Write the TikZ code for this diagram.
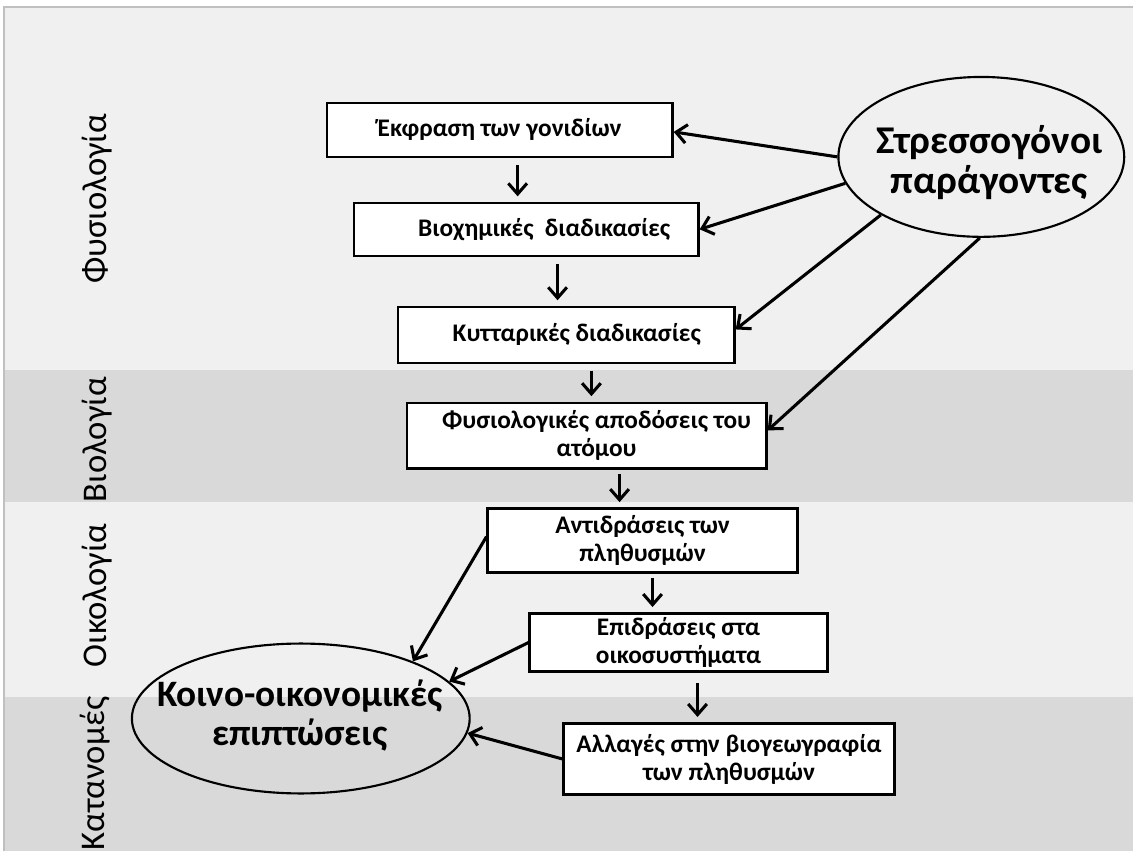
\documentclass[tikz,border=0pt]{standalone}
\usepackage{fontspec}
\setmainfont{Carlito}
\usetikzlibrary{shapes.geometric,arrows.meta}
\definecolor{bandlight}{RGB}{240,240,240}
\definecolor{banddark}{RGB}{217,217,217}
\definecolor{frameline}{RGB}{192,192,192}

\begin{document}
\begin{tikzpicture}[%
            x=0.75pt, y=-0.75pt,
            >={Straight Barb[length=8pt,width=14pt]},
            box/.style={draw, line width=1.8pt, fill=white, align=center, inner sep=0pt,
                font=\bfseries\fontsize{19}{21}\selectfont},
            oval/.style={draw, ellipse, line width=1.6pt, inner sep=0pt},
            big/.style={align=center, font=\bfseries\fontsize{#1}{30}\selectfont},
            side/.style={rotate=90, font=\fontsize{26}{30}\selectfont},
            arr/.style={->, line width=2.3pt},
            down/.style={->, line width=2.3pt, shorten <=5pt, shorten >=4pt}
            ]
            \fill[white] (0,0) rectangle (1134,852);
            \fill[bandlight] (4,7) rectangle (1134,852);
            \fill[banddark] (4,370) rectangle (1134,502);
            \fill[banddark] (4,697) rectangle (1134,852);
            \draw[frameline, line width=1.2pt] (4,852) -- (4,7) -- (1134,7);

            \node[side] (physio) at (97,199) {Φυσιολογία};
            \node[side] (bio) at (97,440) {Βιολογία};
            \node[side] (eco) at (97,596) {Οικολογία};
            \node[side] (distr) at (95,774) {Κατανομές};

            \node[box, minimum width=259.5pt, minimum height=40.5pt] (b1) at (500,130) {Έκφραση των γονιδίων};
            \node[box, minimum width=258.75pt, minimum height=39.75pt] (b2) at (526.5,229.5) {\hspace*{27pt}Βιοχημικές~ διαδικασίες};
            \node[box, minimum width=252.75pt, minimum height=42pt] (b3) at (566.5,335) {\hspace*{16pt}Κυτταρικές διαδικασίες};
            \node[box, minimum width=270pt, minimum height=49.5pt] (b4) at (587,436) {\hspace*{15pt}Φυσιολογικές αποδόσεις του\\\hspace*{15pt}ατόμου};
            \node[box, minimum width=232.5pt, minimum height=48pt] (b5) at (643,541) {Αντιδράσεις των\\πληθυσμών};
            \node[box, minimum width=223.5pt, minimum height=43.5pt] (b6) at (679,643) {Επιδράσεις στα\\οικοσυστήματα};
            \node[box, minimum width=248.25pt, minimum height=53.25pt] (b7) at (729.5,759.5) {Αλλαγές στην βιογεωγραφία\\των πληθυσμών};

            \node[oval, minimum width=214.5pt, minimum height=120pt] (stress) at (982,157) {};
            \node[big=29.5] (stress-txt) at (990,163) {Στρεσσογόνοι\\παράγοντες};
            \node[oval, minimum width=253.5pt, minimum height=112.5pt] (socio) at (301,719) {};
            \node[big=28] (socio-txt) at (300,716) {Κοινο-οικονομικές\\επιπτώσεις};

            \draw[down] ([xshift=13.5pt]b1.south) -- ([xshift=13.5pt]b1.south |- b2.north);
            \draw[down] ([xshift=23.6pt]b2.south) -- ([xshift=23.6pt]b2.south |- b3.north);
            \draw[down] ([xshift=19pt]b3.south) -- ([xshift=19pt]b3.south |- b4.north);
            \draw[down, shorten <=3pt] ([xshift=24.75pt]b4.south) -- ([xshift=24.75pt]b4.south |- b5.north);
            \draw[down, shorten <=3pt] ([xshift=7.5pt]b5.south) -- ([xshift=7.5pt]b5.south |- b6.north);
            \draw[down, shorten <=8pt] ([xshift=14.25pt]b6.south) -- ([xshift=14.25pt]b6.south |- b7.north);

            \draw[arr] (stress.180) -- ([yshift=-1.5pt]b1.east);
            \draw[arr] (stress.191) -- (b2.east);
            \draw[arr] (stress.210) -- ([yshift=4pt]b3.east);
            \draw[arr] (stress.269) -- ([yshift=4pt]b4.east);

            \draw[arr] ([yshift=3pt]b5.west) -- (socio.27);
            \draw[arr] (b6.west) -- (socio.14);
            \draw[arr] (b7.west) -- (socio.355);
        \end{tikzpicture}
\end{document}
